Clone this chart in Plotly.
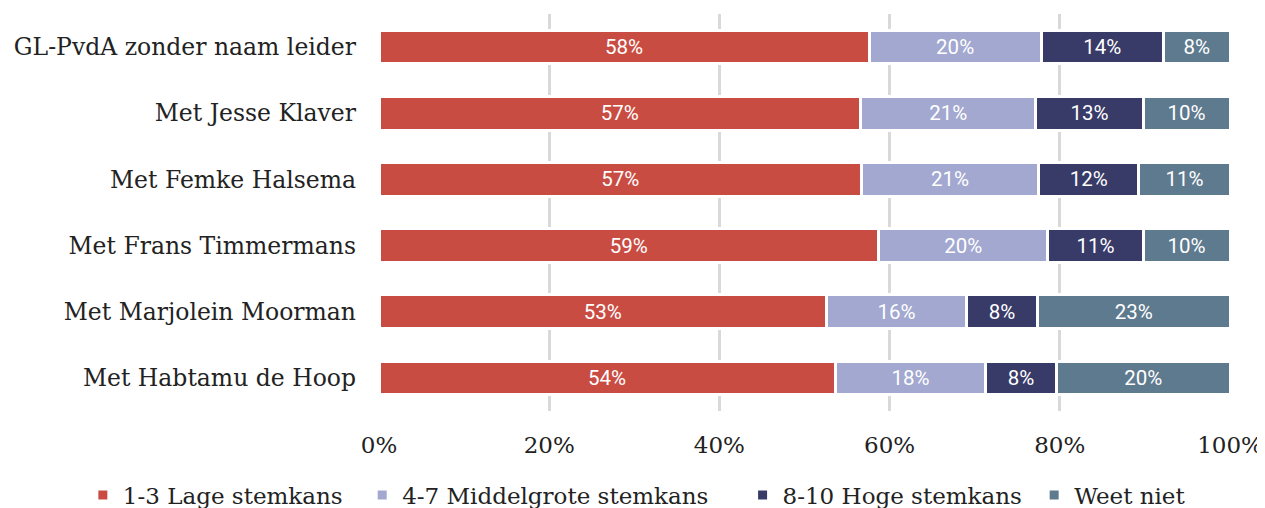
import plotly.graph_objects as go

categories = ["GL-PvdA zonder naam leider", "Met Jesse Klaver", "Met Femke Halsema",
              "Met Frans Timmermans", "Met Marjolein Moorman", "Met Habtamu de Hoop"]
series_names = ["1-3 Lage stemkans", "4-7 Middelgrote stemkans", "8-10 Hoge stemkans", "Weet niet"]
laag = [57.6, 56.6, 56.7, 58.7, 52.6, 53.6]
middel = [20.2, 20.6, 20.8, 19.9, 16.4, 17.7]
hoog = [14.4, 12.6, 11.8, 11.2, 8.4, 8.3]
weet_niet = [7.8, 10.2, 10.7, 10.2, 22.6, 20.4]
colors = ["#C94C43", "#A2A8CF", "#383A67", "#5E7A8E"]
tick_vals = [0, 20, 40, 60, 80, 100]
tick_text = ["0%", "20%", "40%", "60%", "80%", "100%"]

# invisible trailing padding to space the legend entries like the original
legend_pad = [2, 4, 1, 0]

serif = "DejaVu Serif"
fig = go.Figure()
for name, vals, col, pad in zip(series_names, [laag, middel, hoog, weet_niet], colors, legend_pad):
    fig.add_trace(go.Bar(
        y=categories, x=vals, name=name + "\u00a0" * pad, orientation="h",
        marker=dict(color=col, line=dict(color="white", width=3)),
        texttemplate="%{x:.0f}%", textposition="inside", insidetextanchor="middle",
        textangle=0,
        textfont=dict(family="Roboto", size=20.5, color="white"),
        hoverinfo="skip",
    ))

# page body has an 8px margin: figure is sized/offset to compensate
fig.update_layout(
    barmode="stack", bargap=0.49,
    width=1257, height=500,
    margin=dict(l=371, r=35, t=6, b=97, autoexpand=False),
    plot_bgcolor="white", paper_bgcolor="white",
    xaxis=dict(range=[0, 100], tickvals=tick_vals, ticktext=tick_text,
               showgrid=True, gridcolor="#D9D9D9", gridwidth=2.5, zeroline=False,
               tickfont=dict(family=serif, size=23, color="#222"),
               ticks="", ticklabelstandoff=18, automargin=False, tickangle=0),
    yaxis=dict(autorange="reversed", showgrid=False, zeroline=False,
               tickfont=dict(family=serif, size=23.5, color="#222"),
               ticks="", ticklabelstandoff=22, automargin=False),
    legend=dict(orientation="h", xref="paper", x=-0.348, xanchor="left",
                yref="paper", y=-0.212, yanchor="middle", traceorder="normal",
                font=dict(family=serif, size=23, color="#222")),
    showlegend=True,
)
fig.write_html("out.html")
